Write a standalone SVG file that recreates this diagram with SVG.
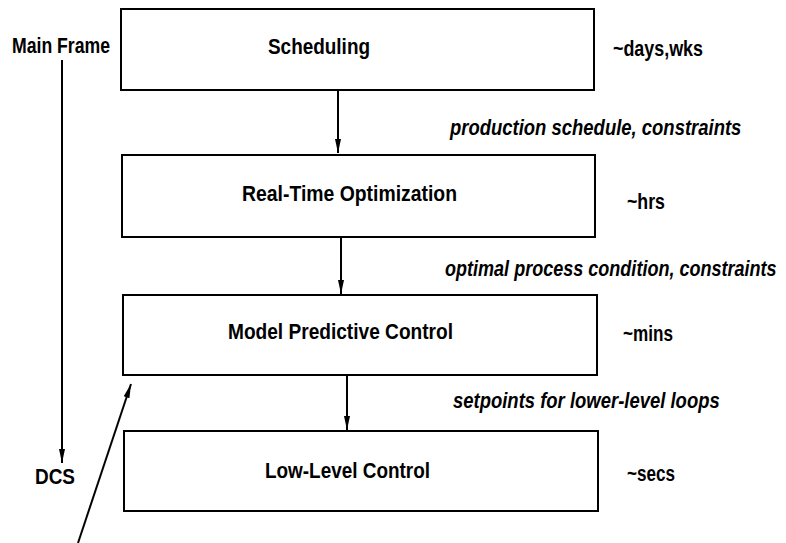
<svg xmlns="http://www.w3.org/2000/svg" width="786" height="543" viewBox="0 0 786 543">
<defs>
<marker id="ah" viewBox="0 0 14 8" refX="14" refY="4" markerWidth="14" markerHeight="8" markerUnits="userSpaceOnUse" orient="auto">
<path d="M0,1 L14,4 L0,7 Z" fill="#000"/>
</marker>
<style>
.box{fill:#fff;stroke:#000;stroke-width:2}
.t{font-family:"Liberation Sans",Arial,sans-serif;font-weight:bold;font-size:22px;fill:#000}
.i{font-style:italic}
.c{stroke:#000;stroke-width:2;fill:none;marker-end:url(#ah)}
</style>
</defs>
<rect width="786" height="543" fill="#fff"/>
<g id="connectors">
<line class="c" x1="338" y1="91" x2="338" y2="153"/>
<line class="c" x1="341" y1="238" x2="341" y2="294"/>
<line class="c" x1="347" y1="376" x2="347" y2="430"/>
<line class="c" x1="62" y1="60" x2="62" y2="463"/>
<line class="c" x1="78" y1="543" x2="131" y2="384"/>
</g>
<g id="scheduling">
<rect class="box" x="121" y="9" width="473" height="81"/>
<text class="t" x="268" y="54" textLength="102" lengthAdjust="spacingAndGlyphs">Scheduling</text>
</g>
<g id="rto">
<rect class="box" x="122" y="155" width="473" height="82"/>
<text class="t" x="242" y="201" textLength="215" lengthAdjust="spacingAndGlyphs">Real-Time Optimization</text>
</g>
<g id="mpc">
<rect class="box" x="123" y="295" width="474" height="80"/>
<text class="t" x="228" y="339" textLength="225" lengthAdjust="spacingAndGlyphs">Model Predictive Control</text>
</g>
<g id="llc">
<rect class="box" x="124" y="431" width="474" height="80"/>
<text class="t" x="265" y="478" textLength="165" lengthAdjust="spacingAndGlyphs">Low-Level Control</text>
</g>
<g id="labels">
<text class="t" x="12" y="53" textLength="98" lengthAdjust="spacingAndGlyphs">Main Frame</text>
<text class="t" x="35" y="484" textLength="40" lengthAdjust="spacingAndGlyphs">DCS</text>
<text class="t" x="613" y="56" textLength="90" lengthAdjust="spacingAndGlyphs">~days,wks</text>
<text class="t" x="627" y="209" textLength="38" lengthAdjust="spacingAndGlyphs">~hrs</text>
<text class="t" x="623" y="341" textLength="50" lengthAdjust="spacingAndGlyphs">~mins</text>
<text class="t" x="627" y="481" textLength="48" lengthAdjust="spacingAndGlyphs">~secs</text>
<text class="t i" transform="translate(450,135) scale(0.84,1)">production schedule, constraints</text>
<text class="t i" transform="translate(445,276) scale(0.82,1)">optimal process condition, constraints</text>
<text class="t i" transform="translate(453,408) scale(0.84,1)">setpoints for lower-level loops</text>
</g>
</svg>
